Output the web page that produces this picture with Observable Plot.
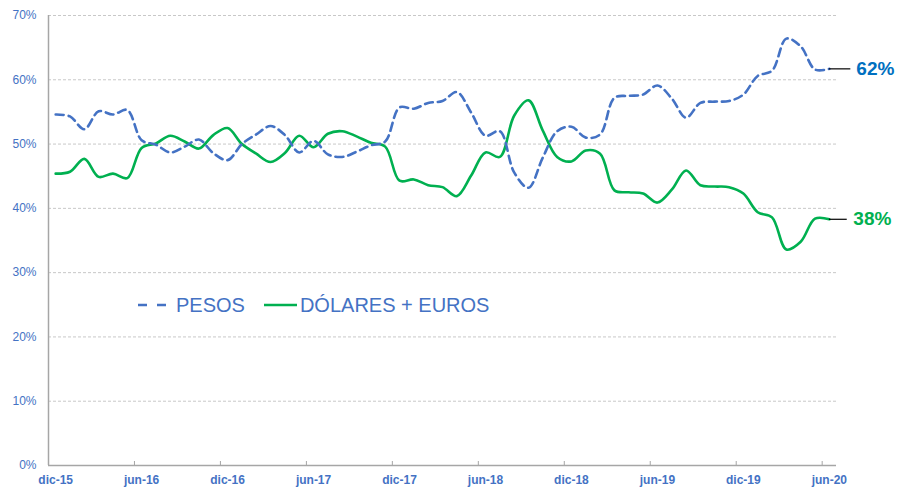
<!DOCTYPE html>
<html>
<head>
<meta charset="utf-8">
<script src="https://cdn.jsdelivr.net/npm/d3@7"></script>
<script src="https://cdn.jsdelivr.net/npm/@observablehq/plot@0.6"></script>
<style>
  html, body { margin: 0; padding: 0; background: #fff; }
  #wrap { position: relative; width: 897px; height: 489px; font-family: "Liberation Sans", Arial, sans-serif; }
  #legend { position: absolute; left: 138px; top: 293px; height: 24px; display: flex; align-items: center;
            font-size: 20px; color: #4472C4; white-space: nowrap; }
  #legend svg { display: block; }
</style>
</head>
<body>
<div id="wrap">
  <div id="chart"></div>
  <div id="legend">
    <svg width="28" height="6"><line x1="0" y1="3" x2="28" y2="3" stroke="#4472C4" stroke-width="2.6" stroke-dasharray="9,10"/></svg>
    <span style="margin-left:10px">PESOS</span>
    <svg width="33" height="6" style="margin-left:19px"><line x1="0" y1="3" x2="33" y2="3" stroke="#00B050" stroke-width="2.6"/></svg>
    <span style="margin-left:3px">DÓLARES + EUROS</span>
  </div>
</div>
<script>
// Monthly data, dic-15 (index 0) to jun-20 (index 54)
const pesos = [54.6, 54.3, 52.3, 55.1, 54.6, 55.3, 50.6, 49.9, 48.7, 49.6,
               50.7, 48.6, 47.5, 50.0, 51.5, 52.8, 51.4, 48.7, 50.5, 48.4,
               48.0, 48.8, 49.8, 50.4, 55.7, 55.5, 56.4, 56.7, 58.1, 54.9,
               51.3, 52.0, 45.6, 43.2, 47.9, 52.0, 52.7, 51.0, 51.5, 57.2,
               57.5, 57.7, 59.1, 57.1, 54.1, 56.4, 56.6, 56.7, 57.7, 60.6,
               61.4, 66.4, 65.2, 61.6, 61.7];
const dolaresEuros = [45.4, 45.7, 47.7, 44.9, 45.4, 44.7, 49.4, 50.1, 51.3, 50.4,
                      49.3, 51.4, 52.5, 50.0, 48.5, 47.2, 48.6, 51.3, 49.5, 51.6,
                      52.0, 51.2, 50.2, 49.6, 44.3, 44.5, 43.6, 43.3, 41.9, 45.1,
                      48.7, 48.0, 54.4, 56.8, 52.1, 48.0, 47.3, 49.0, 48.5, 42.8,
                      42.5, 42.3, 40.9, 42.9, 45.9, 43.6, 43.4, 43.3, 42.3, 39.4,
                      38.6, 33.6, 34.8, 38.4, 38.3];
const xTickLabels = ["dic-15", "jun-16", "dic-16", "jun-17", "dic-17", "jun-18", "dic-18", "jun-19", "dic-19", "jun-20"];
const xTickIndex = [0, 6, 12, 18, 24, 30, 36, 42, 48, 54];
const yTicks = [0, 10, 20, 30, 40, 50, 60, 70];
const endLabels = ["62%", "38%"];

const pesosData = pesos.map((v, i) => ({i, v}));
const deData = dolaresEuros.map((v, i) => ({i, v}));
const lastP = pesosData[pesosData.length - 1];
const lastD = deData[deData.length - 1];
const blue = "#4472C4";
const font = "Liberation Sans, Arial, sans-serif";

const chart = Plot.plot({
  width: 897,
  height: 489,
  marginLeft: 48,
  marginRight: 61,
  marginTop: 15,
  marginBottom: 24,
  style: {fontFamily: font, background: "white", overflow: "visible"},
  x: {type: "linear", domain: [-0.5, 54.5], axis: null},
  y: {domain: [0, 70], axis: null},
  marks: [
    Plot.ruleY(yTicks.filter(d => d > 0), {stroke: "#c8c8c8", strokeWidth: 1, strokeDasharray: "3,2"}),
    Plot.ruleX([-0.5], {y1: 0, y2: 70, stroke: "#a6a6a6", strokeWidth: 1.5}),
    Plot.ruleY([0], {stroke: "#a6a6a6", strokeWidth: 1.5}),
    Plot.axisY({ticks: yTicks, label: null, tickSize: 0, tickPadding: 12, tickFormat: d => d + "%", fontSize: 12, fill: blue}),
    Plot.axisX({ticks: xTickIndex.map(d => d - 0.5), label: null, tickSize: 4, dy: -4, tickFormat: () => "", stroke: "#a6a6a6"}),
    Plot.axisX({ticks: xTickIndex, label: null, tickSize: 0, tickPadding: 10, tickFormat: (d, k) => xTickLabels[k], fontSize: 12, fontWeight: "bold", fill: blue}),
    Plot.line(deData, {x: "i", y: "v", stroke: "#00B050", strokeWidth: 2.6, curve: "catmull-rom"}),
    Plot.line(pesosData, {x: "i", y: "v", stroke: blue, strokeWidth: 2.6, strokeDasharray: "8,5", curve: "catmull-rom"}),
    Plot.ruleY([lastP], {y: "v", x1: d => d.i, x2: d => d.i + 1.5, stroke: "#000", strokeWidth: 1.2}),
    Plot.ruleY([lastD], {y: "v", x1: d => d.i, x2: d => d.i + 1.25, stroke: "#000", strokeWidth: 1.2}),
    Plot.text([lastP], {x: "i", y: "v", text: () => endLabels[0], dx: 27, textAnchor: "start", fontSize: 19, fontWeight: "bold", fill: "#0070C0"}),
    Plot.text([lastD], {x: "i", y: "v", text: () => endLabels[1], dx: 24, textAnchor: "start", fontSize: 19, fontWeight: "bold", fill: "#00B050"})
  ]
});
document.getElementById("chart").appendChild(chart);
</script>
</body>
</html>
